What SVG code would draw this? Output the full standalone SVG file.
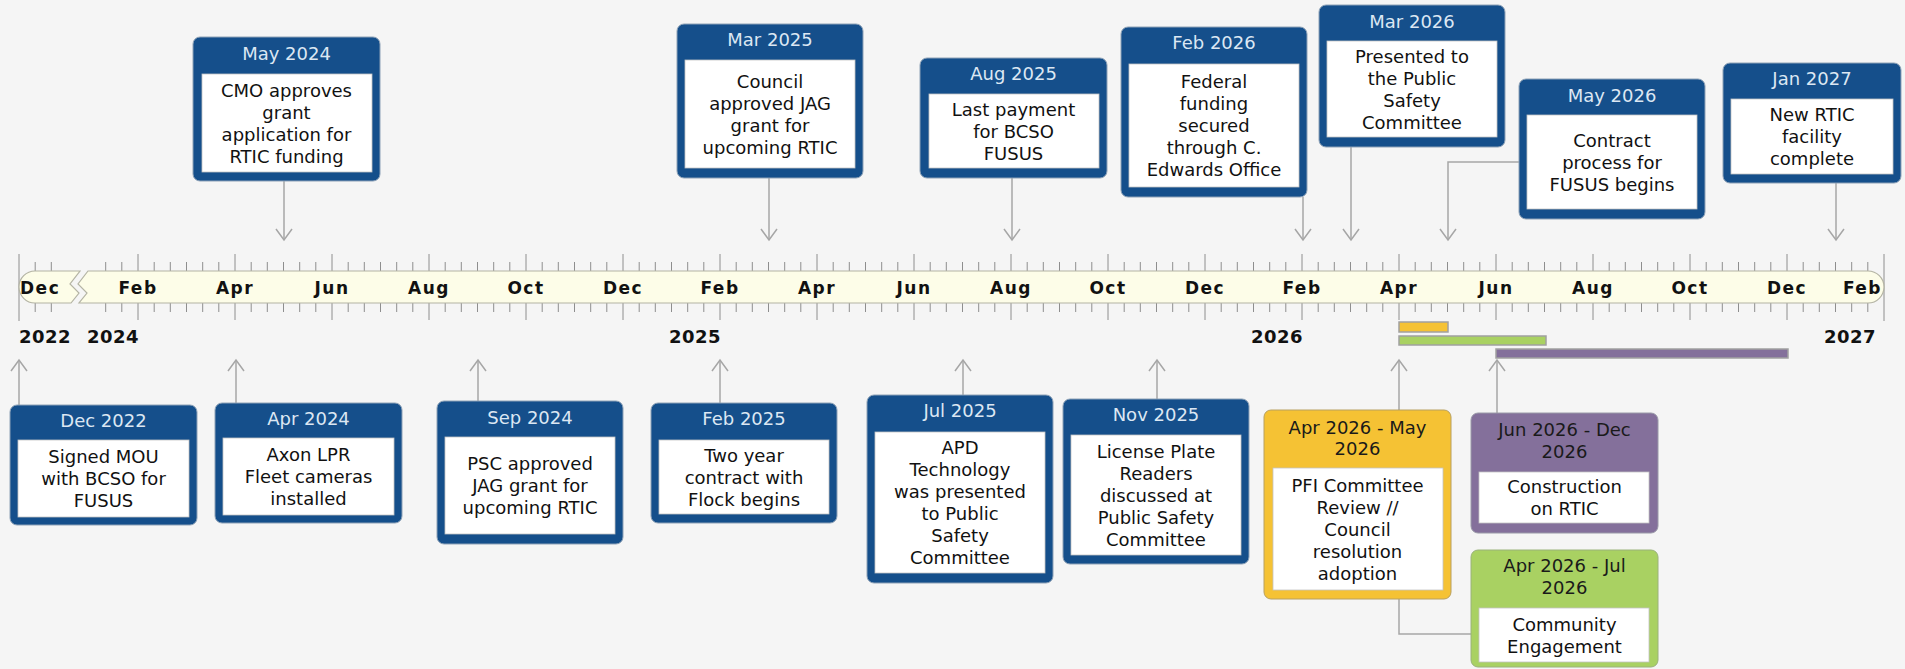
<svg xmlns="http://www.w3.org/2000/svg" width="1905" height="669" viewBox="0 0 1905 669">
<defs>
<style>
.bg{fill:#f5f5f5}
.band{fill:#fdfde8;stroke:#b4b4a4;stroke-width:1.2}
.tick{fill:none;stroke:#8e8e8e;stroke-width:1}
.mon{font-family:"DejaVu Sans",Verdana,sans-serif;font-weight:bold;font-size:17px;letter-spacing:1.5px;fill:#111;text-anchor:middle}
.yr{font-family:"DejaVu Sans",Verdana,sans-serif;font-weight:bold;font-size:18px;letter-spacing:0.5px;fill:#111;text-anchor:end}
.conn{fill:none;stroke:#a6a6a6;stroke-width:1.5}
.blue{fill:#154f8b;stroke:#8ea2b7;stroke-width:1}
.yel{fill:#f5c234;stroke:#b8a060;stroke-width:1}
.pur{fill:#84709b;stroke:#9a9aa8;stroke-width:1}
.grn{fill:#a9d162;stroke:#9ab27a;stroke-width:1}
.inner{fill:#ffffff;stroke:#c4c4c4;stroke-width:0.8}
.hd{font-family:"DejaVu Sans",Verdana,sans-serif;font-size:18px;fill:#dce7f3;text-anchor:middle}
.hdk{font-family:"DejaVu Sans",Verdana,sans-serif;font-size:18px;fill:#1a1a1a;text-anchor:middle}
.tx{font-family:"DejaVu Sans",Verdana,sans-serif;font-size:18px;fill:#111;text-anchor:middle}
.bar{stroke:#a0a0a0;stroke-width:1.5}
</style>
<marker id="arr" markerUnits="userSpaceOnUse" orient="auto" markerWidth="1" markerHeight="1" overflow="visible">
<path d="M-11,-8 L0,0 L-11,8" fill="none" stroke="#a6a6a6" stroke-width="1.5"/>
</marker>
</defs>
<rect class="bg" x="0" y="0" width="1905" height="669"/>

<g id="axis">
<path class="tick" d="M19 254V321M1884 254V321"/>
<path class="tick" d="M35.2 262v9m0 32v9M51.3 262v9m0 32v9M105.7 262v9m0 32v9M121.8 262v9m0 32v9M154.2 262v9m0 32v9M170.3 262v9m0 32v9M186.5 262v9m0 32v9M202.7 262v9m0 32v9M218.8 262v9m0 32v9M251.2 262v9m0 32v9M267.3 262v9m0 32v9M283.5 262v9m0 32v9M299.7 262v9m0 32v9M315.8 262v9m0 32v9M348.2 262v9m0 32v9M364.3 262v9m0 32v9M380.5 262v9m0 32v9M396.7 262v9m0 32v9M412.8 262v9m0 32v9M445.2 262v9m0 32v9M461.3 262v9m0 32v9M477.5 262v9m0 32v9M493.7 262v9m0 32v9M509.8 262v9m0 32v9M542.2 262v9m0 32v9M558.3 262v9m0 32v9M574.5 262v9m0 32v9M590.7 262v9m0 32v9M606.8 262v9m0 32v9M639.2 262v9m0 32v9M655.3 262v9m0 32v9M671.5 262v9m0 32v9M687.7 262v9m0 32v9M703.8 262v9m0 32v9M736.2 262v9m0 32v9M752.3 262v9m0 32v9M768.5 262v9m0 32v9M784.7 262v9m0 32v9M800.8 262v9m0 32v9M833.2 262v9m0 32v9M849.3 262v9m0 32v9M865.5 262v9m0 32v9M881.7 262v9m0 32v9M897.8 262v9m0 32v9M930.2 262v9m0 32v9M946.3 262v9m0 32v9M962.5 262v9m0 32v9M978.7 262v9m0 32v9M994.8 262v9m0 32v9M1027.2 262v9m0 32v9M1043.3 262v9m0 32v9M1059.5 262v9m0 32v9M1075.7 262v9m0 32v9M1091.8 262v9m0 32v9M1124.2 262v9m0 32v9M1140.3 262v9m0 32v9M1156.5 262v9m0 32v9M1172.7 262v9m0 32v9M1188.8 262v9m0 32v9M1221.2 262v9m0 32v9M1237.3 262v9m0 32v9M1253.5 262v9m0 32v9M1269.7 262v9m0 32v9M1285.8 262v9m0 32v9M1318.2 262v9m0 32v9M1334.3 262v9m0 32v9M1350.5 262v9m0 32v9M1366.7 262v9m0 32v9M1382.8 262v9m0 32v9M1415.2 262v9m0 32v9M1431.3 262v9m0 32v9M1447.5 262v9m0 32v9M1463.7 262v9m0 32v9M1479.8 262v9m0 32v9M1512.2 262v9m0 32v9M1528.3 262v9m0 32v9M1544.5 262v9m0 32v9M1560.7 262v9m0 32v9M1576.8 262v9m0 32v9M1609.2 262v9m0 32v9M1625.3 262v9m0 32v9M1641.5 262v9m0 32v9M1657.7 262v9m0 32v9M1673.8 262v9m0 32v9M1706.2 262v9m0 32v9M1722.3 262v9m0 32v9M1738.5 262v9m0 32v9M1754.7 262v9m0 32v9M1770.8 262v9m0 32v9M1803.2 262v9m0 32v9M1819.3 262v9m0 32v9M1835.5 262v9m0 32v9M1851.7 262v9m0 32v9M1867.8 262v9m0 32v9"/>
<path class="tick" d="M138 254v17m0 32v17M235 254v17m0 32v17M332 254v17m0 32v17M429 254v17m0 32v17M526 254v17m0 32v17M623 254v17m0 32v17M720 254v17m0 32v17M817 254v17m0 32v17M914 254v17m0 32v17M1011 254v17m0 32v17M1108 254v17m0 32v17M1205 254v17m0 32v17M1302 254v17m0 32v17M1399 254v17m0 32v17M1496 254v17m0 32v17M1593 254v17m0 32v17M1690 254v17m0 32v17M1787 254v17m0 32v17"/>
<path class="band" d="M35 271H80L70 284L79 293L71 303H35A16 16 0 0 1 35 271Z"/>
<path class="band" d="M88 271H1868A16 16 0 0 1 1868 303H79L87 293L78 284Z"/>
<text class="mon" x="20" y="294" style="text-anchor:start">Dec</text>
<text class="mon" x="138" y="294">Feb</text>
<text class="mon" x="235" y="294">Apr</text>
<text class="mon" x="332" y="294">Jun</text>
<text class="mon" x="429" y="294">Aug</text>
<text class="mon" x="526" y="294">Oct</text>
<text class="mon" x="623" y="294">Dec</text>
<text class="mon" x="720" y="294">Feb</text>
<text class="mon" x="817" y="294">Apr</text>
<text class="mon" x="914" y="294">Jun</text>
<text class="mon" x="1011" y="294">Aug</text>
<text class="mon" x="1108" y="294">Oct</text>
<text class="mon" x="1205" y="294">Dec</text>
<text class="mon" x="1302" y="294">Feb</text>
<text class="mon" x="1399" y="294">Apr</text>
<text class="mon" x="1496" y="294">Jun</text>
<text class="mon" x="1593" y="294">Aug</text>
<text class="mon" x="1690" y="294">Oct</text>
<text class="mon" x="1787" y="294">Dec</text>
<text class="mon" x="1882" y="294" style="text-anchor:end">Feb</text>
<text class="yr" x="19" y="343" style="text-anchor:start">2022</text>
<text class="yr" x="139" y="343">2024</text>
<text class="yr" x="721" y="343">2025</text>
<text class="yr" x="1303" y="343">2026</text>
<text class="yr" x="1876" y="343">2027</text>
</g>

<g id="bars">
<rect class="bar" x="1399" y="322" width="49" height="10" fill="#f5c234"/>
<rect class="bar" x="1399" y="336" width="147" height="9" fill="#a9d162"/>
<rect class="bar" x="1496" y="349" width="292" height="9" fill="#84709b"/>
</g>

<g id="connectors">
<path class="conn" marker-end="url(#arr)" d="M284 181V240"/>
<path class="conn" marker-end="url(#arr)" d="M769 178V240"/>
<path class="conn" marker-end="url(#arr)" d="M1012 178V240"/>
<path class="conn" marker-end="url(#arr)" d="M1303 197V240"/>
<path class="conn" marker-end="url(#arr)" d="M1351 147V240"/>
<path class="conn" marker-end="url(#arr)" d="M1519 162H1448V240"/>
<path class="conn" marker-end="url(#arr)" d="M1836 183V240"/>
<path class="conn" marker-end="url(#arr)" d="M19 405V360"/>
<path class="conn" marker-end="url(#arr)" d="M236 403V360"/>
<path class="conn" marker-end="url(#arr)" d="M478 401V360"/>
<path class="conn" marker-end="url(#arr)" d="M720 403V360"/>
<path class="conn" marker-end="url(#arr)" d="M963 395V360"/>
<path class="conn" marker-end="url(#arr)" d="M1157 399V360"/>
<path class="conn" marker-end="url(#arr)" d="M1399 410V360"/>
<path class="conn" d="M1471 634H1399V599"/>
<path class="conn" marker-end="url(#arr)" d="M1497 413V360"/>
</g>

<g id="n-may2024">
<rect class="blue" x="193" y="37" width="187" height="144" rx="7"/>
<rect class="inner" x="202" y="74" width="170" height="98"/>
<text class="hd" x="286.5" y="59.5">May 2024</text>
<text class="tx" x="286.5" y="96.5">CMO approves</text>
<text class="tx" x="286.5" y="118.5">grant</text>
<text class="tx" x="286.5" y="140.5">application for</text>
<text class="tx" x="286.5" y="162.5">RTIC funding</text>
</g>

<g id="n-mar2025">
<rect class="blue" x="677" y="24" width="186" height="154" rx="7"/>
<rect class="inner" x="685" y="60" width="170" height="108"/>
<text class="hd" x="770" y="45.5">Mar 2025</text>
<text class="tx" x="770" y="87.5">Council</text>
<text class="tx" x="770" y="109.5">approved JAG</text>
<text class="tx" x="770" y="131.5">grant for</text>
<text class="tx" x="770" y="153.5">upcoming RTIC</text>
</g>

<g id="n-aug2025">
<rect class="blue" x="920" y="58" width="187" height="120" rx="7"/>
<rect class="inner" x="929" y="94" width="170" height="74"/>
<text class="hd" x="1013.5" y="79.5">Aug 2025</text>
<text class="tx" x="1013.5" y="115.5">Last payment</text>
<text class="tx" x="1013.5" y="137.5">for BCSO</text>
<text class="tx" x="1013.5" y="159.5">FUSUS</text>
</g>

<g id="n-feb2026">
<rect class="blue" x="1121" y="27" width="186" height="170" rx="7"/>
<rect class="inner" x="1129" y="64" width="170" height="123"/>
<text class="hd" x="1214" y="48.5">Feb 2026</text>
<text class="tx" x="1214" y="88">Federal</text>
<text class="tx" x="1214" y="110">funding</text>
<text class="tx" x="1214" y="132">secured</text>
<text class="tx" x="1214" y="154">through C.</text>
<text class="tx" x="1214" y="176">Edwards Office</text>
</g>

<g id="n-mar2026">
<rect class="blue" x="1319" y="5" width="186" height="142" rx="7"/>
<rect class="inner" x="1327" y="41" width="170" height="96"/>
<text class="hd" x="1412" y="27.5">Mar 2026</text>
<text class="tx" x="1412" y="62.5">Presented to</text>
<text class="tx" x="1412" y="84.5">the Public</text>
<text class="tx" x="1412" y="106.5">Safety</text>
<text class="tx" x="1412" y="128.5">Committee</text>
</g>

<g id="n-may2026">
<rect class="blue" x="1519" y="79" width="186" height="140" rx="7"/>
<rect class="inner" x="1527" y="115" width="170" height="94"/>
<text class="hd" x="1612" y="101.5">May 2026</text>
<text class="tx" x="1612" y="146.5">Contract</text>
<text class="tx" x="1612" y="168.5">process for</text>
<text class="tx" x="1612" y="190.5">FUSUS begins</text>
</g>

<g id="n-jan2027">
<rect class="blue" x="1723" y="63" width="178" height="120" rx="7"/>
<rect class="inner" x="1731" y="99" width="162" height="75"/>
<text class="hd" x="1812" y="84.5">Jan 2027</text>
<text class="tx" x="1812" y="121">New RTIC</text>
<text class="tx" x="1812" y="143">facility</text>
<text class="tx" x="1812" y="165">complete</text>
</g>

<g id="n-dec2022">
<rect class="blue" x="10" y="405" width="187" height="120" rx="7"/>
<rect class="inner" x="18" y="440" width="171" height="77"/>
<text class="hd" x="103.5" y="426.5">Dec 2022</text>
<text class="tx" x="103.5" y="463">Signed MOU</text>
<text class="tx" x="103.5" y="485">with BCSO for</text>
<text class="tx" x="103.5" y="507">FUSUS</text>
</g>

<g id="n-apr2024">
<rect class="blue" x="215" y="403" width="187" height="120" rx="7"/>
<rect class="inner" x="223" y="438" width="171" height="77"/>
<text class="hd" x="308.5" y="424.5">Apr 2024</text>
<text class="tx" x="308.5" y="461">Axon LPR</text>
<text class="tx" x="308.5" y="483">Fleet cameras</text>
<text class="tx" x="308.5" y="505">installed</text>
</g>

<g id="n-sep2024">
<rect class="blue" x="437" y="401" width="186" height="143" rx="7"/>
<rect class="inner" x="445" y="437" width="170" height="97"/>
<text class="hd" x="530" y="423.5">Sep 2024</text>
<text class="tx" x="530" y="470">PSC approved</text>
<text class="tx" x="530" y="492">JAG grant for</text>
<text class="tx" x="530" y="514">upcoming RTIC</text>
</g>

<g id="n-feb2025">
<rect class="blue" x="651" y="403" width="186" height="120" rx="7"/>
<rect class="inner" x="659" y="440" width="170" height="74"/>
<text class="hd" x="744" y="424.5">Feb 2025</text>
<text class="tx" x="744" y="461.5">Two year</text>
<text class="tx" x="744" y="483.5">contract with</text>
<text class="tx" x="744" y="505.5">Flock begins</text>
</g>

<g id="n-jul2025">
<rect class="blue" x="867" y="395" width="186" height="188" rx="7"/>
<rect class="inner" x="875" y="432" width="170" height="141"/>
<text class="hd" x="960" y="416.5">Jul 2025</text>
<text class="tx" x="960" y="454">APD</text>
<text class="tx" x="960" y="476">Technology</text>
<text class="tx" x="960" y="498">was presented</text>
<text class="tx" x="960" y="520">to Public</text>
<text class="tx" x="960" y="542">Safety</text>
<text class="tx" x="960" y="564">Committee</text>
</g>

<g id="n-nov2025">
<rect class="blue" x="1063" y="399" width="186" height="165" rx="7"/>
<rect class="inner" x="1071" y="435" width="170" height="120"/>
<text class="hd" x="1156" y="420.5">Nov 2025</text>
<text class="tx" x="1156" y="457.5">License Plate</text>
<text class="tx" x="1156" y="479.5">Readers</text>
<text class="tx" x="1156" y="501.5">discussed at</text>
<text class="tx" x="1156" y="523.5">Public Safety</text>
<text class="tx" x="1156" y="545.5">Committee</text>
</g>

<g id="n-pfi">
<rect class="yel" x="1264" y="410" width="187" height="189" rx="7"/>
<rect class="inner" x="1273" y="468" width="170" height="122"/>
<text class="hdk" x="1357.5" y="433.5">Apr 2026 - May</text>
<text class="hdk" x="1357.5" y="455">2026</text>
<text class="tx" x="1357.5" y="491.5">PFI Committee</text>
<text class="tx" x="1357.5" y="513.5">Review //</text>
<text class="tx" x="1357.5" y="535.5">Council</text>
<text class="tx" x="1357.5" y="557.5">resolution</text>
<text class="tx" x="1357.5" y="579.5">adoption</text>
</g>

<g id="n-construction">
<rect class="pur" x="1471" y="413" width="187" height="120" rx="7"/>
<rect class="inner" x="1479" y="472" width="170" height="51"/>
<text class="hdk" x="1564.5" y="435.5">Jun 2026 - Dec</text>
<text class="hdk" x="1564.5" y="457.5">2026</text>
<text class="tx" x="1564.5" y="493">Construction</text>
<text class="tx" x="1564.5" y="515">on RTIC</text>
</g>

<g id="n-community">
<rect class="grn" x="1471" y="550" width="187" height="117" rx="7"/>
<rect class="inner" x="1479" y="608" width="170" height="54"/>
<text class="hdk" x="1564.5" y="571.5">Apr 2026 - Jul</text>
<text class="hdk" x="1564.5" y="594">2026</text>
<text class="tx" x="1564.5" y="631">Community</text>
<text class="tx" x="1564.5" y="653">Engagement</text>
</g>
</svg>
